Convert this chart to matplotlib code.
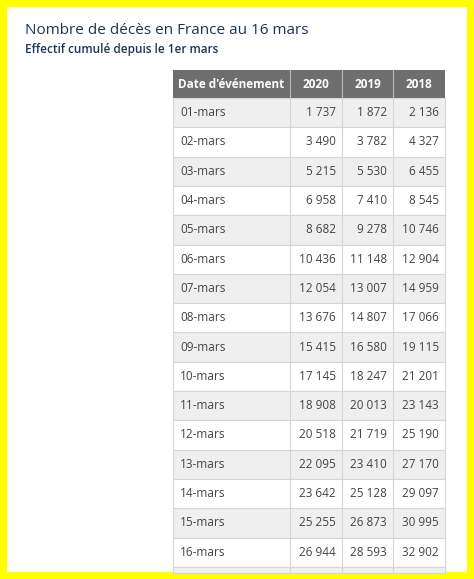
import matplotlib
matplotlib.use("Agg")
import matplotlib.pyplot as plt
from matplotlib.patches import Rectangle

title = "Nombre de décès en France au 16 mars"
subtitle = "Effectif cumulé depuis le 1er mars"
headers = ["Date d'événement", "2020", "2019", "2018"]
dates = [f"{d:02d}-mars" for d in range(1, 17)]
v2020 = ["1 737","3 490","5 215","6 958","8 682","10 436","12 054","13 676","15 415","17 145","18 908","20 518","22 095","23 642","25 255","26 944"]
v2019 = ["1 872","3 782","5 530","7 410","9 278","11 148","13 007","14 807","16 580","18 247","20 013","21 719","23 410","25 128","26 873","28 593"]
v2018 = ["2 136","4 327","6 455","8 545","10 746","12 904","14 959","17 066","19 115","21 201","23 143","25 190","27 170","29 097","30 995","32 902"]

plt.rcParams['font.family'] = ['Open Sans', 'DejaVu Sans']
fig = plt.figure(figsize=(4.74, 5.79), dpi=100)
ax = fig.add_axes([0, 0, 1, 1])
ax.set_xlim(0, 474); ax.set_ylim(579, 0); ax.axis('off')
ax.add_patch(Rectangle((3, 3), 468, 573, fc='white', ec='#ffff00', lw=6))

ax.text(25, 30, title, fontsize=11, color='#1d3557', va='center')
ax.text(25, 50, subtitle, fontsize=8.5, color='#1d3557', va='center', fontweight='semibold')

cols = [173, 290, 342, 393, 445]
top, hh, rh = 70, 28, 29.3
ax.add_patch(Rectangle((cols[0], top), cols[-1]-cols[0], hh, fc='#6e6e6e', ec='none'))
for i, h in enumerate(headers):
    ax.text((cols[i]+cols[i+1])/2, top+hh/2, h, ha='center', va='center', color='white', fontsize=8.5, fontweight='bold')
for j in range(1, 4):
    ax.plot([cols[j]]*2, [top, top+hh], color='#bbbbbb', lw=0.8)

rows = list(zip(dates, v2020, v2019, v2018))
for r, row in enumerate(rows + [("", "", "", "")]):
    y = top + hh + r*rh
    h = rh if r < len(rows) else 579 - 6 - y
    fc = '#efefef' if r % 2 == 0 else 'white'
    ax.add_patch(Rectangle((cols[0], y), cols[-1]-cols[0], h, fc=fc, ec='#d6d6d6', lw=0.8))
    for j in range(1, 4):
        ax.plot([cols[j]]*2, [y, y+h], color='#d6d6d6', lw=0.8)
    for i, t in enumerate(row):
        if i == 0:
            ax.text(cols[0]+7, y+rh/2, t, ha='left', va='center', fontsize=8.5, color='#444444')
        else:
            ax.text(cols[i+1]-6, y+rh/2, t, ha='right', va='center', fontsize=8.5, color='#444444')

fig.savefig("out.png", dpi=100)
